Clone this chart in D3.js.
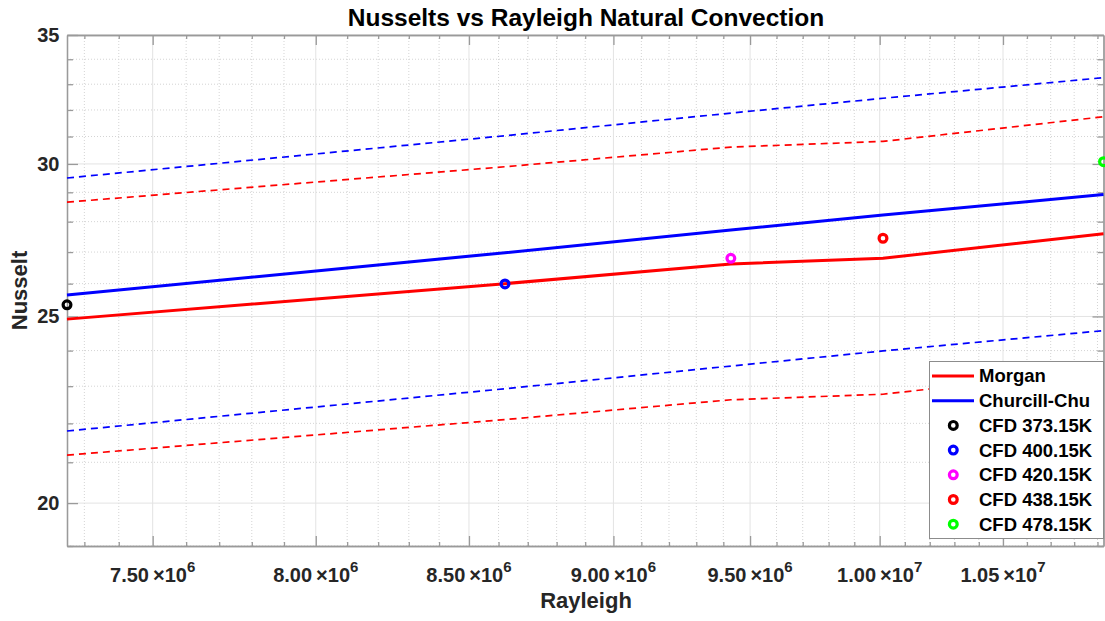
<!DOCTYPE html>
<html>
<head>
<meta charset="utf-8">
<script src="https://cdn.jsdelivr.net/npm/d3@7"></script>
<style>
  html, body { margin: 0; padding: 0; background: #ffffff; }
  svg { display: block; font-family: "Liberation Sans", Arial, Helvetica, sans-serif; }
</style>
</head>
<body>
<svg id="chart" width="1105" height="621"></svg>
<script>
// Rayleigh numbers of the five wall temperatures
const rayleigh = [7.25e6, 8.622e6, 9.428e6, 1.0013e7, 1.0926e7];

// Correlations evaluated at those Rayleigh numbers
const morgan = [24.92, 26.00, 26.62, 26.80, 27.60];
const churchillChu = [25.65, 26.98, 27.72, 28.22, 28.92];

// Error bands drawn dashed around each correlation
const morganUpper = [28.66, 29.90, 30.61, 30.82, 31.74];
const morganLower = [21.18, 22.10, 22.63, 22.78, 23.46];
const churchillUpper = [29.50, 31.03, 31.88, 32.45, 33.26];
const churchillLower = [21.80, 22.93, 23.56, 23.99, 24.58];

// CFD results
const cfdLabels = ["CFD 373.15K", "CFD 400.15K", "CFD 420.15K", "CFD 438.15K", "CFD 478.15K"];
const cfdNusselt = [25.35, 25.99, 26.80, 27.45, 30.08];
const cfdColors = ["#000000", "#0000ff", "#ff00ff", "#ff0000", "#00ff00"];

// Axis ticks
const xMajorTicks = [7.5e6, 8.0e6, 8.5e6, 9.0e6, 9.5e6, 1.0e7, 1.05e7];
const yMajorTicks = [20, 25, 30, 35];
const xDomain = [7.25e6, 1.0926e7];
const yDomain = [19, 35];

const svg = d3.select("#chart");
const plotLeft = 67, plotRight = 1103.5, plotTop = 35, plotBottom = 546;

const x = d3.scaleLog().domain(xDomain).range([plotLeft, plotRight]);
const y = d3.scaleLog().domain(yDomain).range([plotBottom, plotTop]);

const xMinorTicks = d3.range(73, 110).map(v => v * 1e5)
  .filter(v => v >= xDomain[0] && v <= xDomain[1] && !xMajorTicks.some(m => Math.abs(m - v) < 1));
const yMinorTicks = d3.range(19, 36).filter(v => !yMajorTicks.includes(v));

const axisColor = "#9a9a9a";
const textColor = "#262626";

// Grid
const grid = svg.append("g");
grid.selectAll(".xminor").data(xMinorTicks).join("line")
  .attr("x1", d => x(d)).attr("x2", d => x(d)).attr("y1", plotTop).attr("y2", plotBottom)
  .attr("stroke", "#d4d4d4").attr("stroke-width", 1).attr("stroke-dasharray", "1,2");
grid.selectAll(".yminor").data(yMinorTicks).join("line")
  .attr("y1", d => y(d)).attr("y2", d => y(d)).attr("x1", plotLeft).attr("x2", plotRight)
  .attr("stroke", "#d4d4d4").attr("stroke-width", 1).attr("stroke-dasharray", "1,2");
grid.selectAll(".xmajor").data(xMajorTicks).join("line")
  .attr("x1", d => x(d)).attr("x2", d => x(d)).attr("y1", plotTop).attr("y2", plotBottom)
  .attr("stroke", "#e3e3e3").attr("stroke-width", 1);
grid.selectAll(".ymajor").data(yMajorTicks).join("line")
  .attr("y1", d => y(d)).attr("y2", d => y(d)).attr("x1", plotLeft).attr("x2", plotRight)
  .attr("stroke", "#e3e3e3").attr("stroke-width", 1);

// Axes with inward ticks on all four sides
function styleAxis(g) {
  g.select(".domain").attr("stroke", axisColor).attr("stroke-width", 1.3);
  g.selectAll(".tick line").attr("stroke", axisColor).attr("stroke-width", 1.3);
  g.selectAll(".tick text").remove();
}
svg.append("g").attr("transform", `translate(0,${plotBottom})`)
  .call(d3.axisBottom(x).tickValues(xMajorTicks).tickSize(-10).tickSizeOuter(0)).call(styleAxis);
svg.append("g").attr("transform", `translate(0,${plotBottom})`)
  .call(d3.axisBottom(x).tickValues(xMinorTicks).tickSize(-4).tickSizeOuter(0)).call(styleAxis);
svg.append("g").attr("transform", `translate(0,${plotTop})`)
  .call(d3.axisTop(x).tickValues(xMajorTicks).tickSize(-10).tickSizeOuter(0)).call(styleAxis);
svg.append("g").attr("transform", `translate(0,${plotTop})`)
  .call(d3.axisTop(x).tickValues(xMinorTicks).tickSize(-4).tickSizeOuter(0)).call(styleAxis);
svg.append("g").attr("transform", `translate(${plotLeft},0)`)
  .call(d3.axisLeft(y).tickValues(yMajorTicks).tickSize(-11).tickSizeOuter(0)).call(styleAxis);
svg.append("g").attr("transform", `translate(${plotLeft},0)`)
  .call(d3.axisLeft(y).tickValues(yMinorTicks).tickSize(-6).tickSizeOuter(0)).call(styleAxis);
svg.append("g").attr("transform", `translate(${plotRight},0)`)
  .call(d3.axisRight(y).tickValues(yMajorTicks).tickSize(-11).tickSizeOuter(0)).call(styleAxis);
svg.append("g").attr("transform", `translate(${plotRight},0)`)
  .call(d3.axisRight(y).tickValues(yMinorTicks).tickSize(-6).tickSizeOuter(0)).call(styleAxis);

// Tick labels
svg.append("g").selectAll("text").data(yMajorTicks).join("text")
  .attr("x", plotLeft - 7.5).attr("y", d => y(d)).attr("dy", "0.35em")
  .attr("text-anchor", "end").attr("font-size", 20).attr("font-weight", "bold")
  .attr("fill", textColor).text(d => d);

const xl = svg.append("g").selectAll("text").data(xMajorTicks).join("text")
  .attr("x", d => x(d)).attr("y", 582)
  .attr("text-anchor", "middle").attr("font-size", 20).attr("font-weight", "bold")
  .attr("fill", textColor);
xl.each(function(d) {
  const e = Math.floor(Math.log10(d) + 1e-9);
  const m = d / Math.pow(10, e);
  const t = d3.select(this);
  t.append("tspan").text(m.toFixed(2));
  t.append("tspan").attr("dx", 4).text("\u00d7");
  t.append("tspan").text("10");
  t.append("tspan").attr("dy", -10).attr("font-size", 15).text(e);
});

// Dashed bands
const line = vals => d3.line().x((d, i) => x(rayleigh[i])).y(d => y(d))(vals);
const bands = [
  [churchillUpper, "#0000ff"], [churchillLower, "#0000ff"],
  [morganUpper, "#ff0000"], [morganLower, "#ff0000"]
];
bands.forEach(([vals, c]) => {
  svg.append("path").attr("d", line(vals)).attr("fill", "none")
    .attr("stroke", c).attr("stroke-width", 1.7).attr("stroke-dasharray", "7,5");
});

// Correlations
svg.append("path").attr("d", line(morgan)).attr("fill", "none")
  .attr("stroke", "#ff0000").attr("stroke-width", 3);
svg.append("path").attr("d", line(churchillChu)).attr("fill", "none")
  .attr("stroke", "#0000ff").attr("stroke-width", 3);

// CFD points
svg.append("g").selectAll("circle").data(cfdNusselt).join("circle")
  .attr("cx", (d, i) => x(rayleigh[i])).attr("cy", d => y(d)).attr("r", 3.9)
  .attr("fill", "none").attr("stroke", (d, i) => cfdColors[i]).attr("stroke-width", 3.2);

// Title and axis labels
svg.append("text").attr("x", 586).attr("y", 26)
  .attr("text-anchor", "middle").attr("font-size", 24.5).attr("font-weight", "bold")
  .attr("fill", "#000").text("Nusselts vs Rayleigh Natural Convection");
svg.append("text").attr("x", 586).attr("y", 608)
  .attr("text-anchor", "middle").attr("font-size", 22).attr("font-weight", "bold")
  .attr("fill", textColor).text("Rayleigh");
svg.append("text").attr("transform", `translate(27,${(plotTop + plotBottom) / 2}) rotate(-90)`)
  .attr("text-anchor", "middle").attr("font-size", 22).attr("font-weight", "bold")
  .attr("fill", textColor).text("Nusselt");

// Legend
const legendItems = [
  { label: "Morgan", type: "line", color: "#ff0000" },
  { label: "Churcill-Chu", type: "line", color: "#0000ff" },
  ...cfdLabels.map((l, i) => ({ label: l, type: "marker", color: cfdColors[i] }))
];
const lg = svg.append("g");
lg.append("rect").attr("x", 929.5).attr("y", 361.5).attr("width", 174).attr("height", 177)
  .attr("fill", "#ffffff").attr("stroke", "#8c8c8c").attr("stroke-width", 1);
const row = lg.selectAll("g").data(legendItems).join("g")
  .attr("transform", (d, i) => `translate(0,${376 + i * 24.7})`);
row.filter(d => d.type === "line").append("line")
  .attr("x1", 932).attr("x2", 974).attr("y1", 0).attr("y2", 0)
  .attr("stroke", d => d.color).attr("stroke-width", 3);
row.filter(d => d.type === "marker").append("circle")
  .attr("cx", 953.3).attr("cy", 0).attr("r", 3.9)
  .attr("fill", "none").attr("stroke", d => d.color).attr("stroke-width", 3.2);
row.append("text").attr("x", 979).attr("y", 0).attr("dy", "0.35em")
  .attr("font-size", 18.5).attr("font-weight", "bold").attr("fill", "#000")
  .text(d => d.label);
</script>
</body>
</html>
